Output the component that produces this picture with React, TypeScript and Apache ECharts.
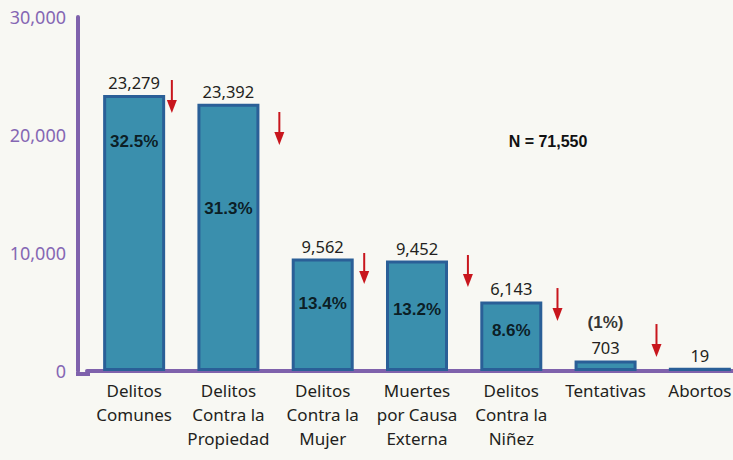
import React, { useEffect, useRef } from "react";
import * as echarts from "echarts";

const categories = [
  "Delitos\nComunes",
  "Delitos\nContra la\nPropiedad",
  "Delitos\nContra la\nMujer",
  "Muertes\npor Causa\nExterna",
  "Delitos\nContra la\nNiñez",
  "Tentativas",
  "Abortos",
];
// bar heights as drawn in the picture
const barHeights = [23400, 22650, 9530, 9360, 5890, 890, 270];
// value labels as printed above the bars
const valueLabels = ["23,279", "23,392", "9,562", "9,452", "6,143", "703", "19"];
// percentage labels: category index, y value for label, text
const pctCategory = [0, 1, 2, 3, 4, 5];
const pctY = [19490, 13810, 5760, 5250, 3390, 4070];
const pctText = ["32.5%", "31.3%", "13.4%", "13.2%", "8.6%", "(1%)"];
// arrows: category index, shift in band widths, top value, bottom value
const arrowCategory = [0, 1, 2, 3, 4, 5];
const arrowShift = [0.4, 0.54, 0.44, 0.54, 0.49, 0.54];
const arrowTop = [24660, 21950, 10000, 9830, 7030, 3980];
const arrowBottom = [21860, 19150, 7370, 7120, 4240, 1190];
const yTicks = { min: 0, max: 30000, interval: 10000 };
const totalText = "N = 71,550";

export default function App() {
  const ref = useRef<HTMLDivElement>(null);
  useEffect(() => {
    if (!ref.current) return;
    const chart = echarts.init(ref.current, null, { renderer: "svg" });
    const purple = "#7F62AC";
    const option: any = {
      animation: false,
      backgroundColor: "#F8F8F3",
      grid: { left: 87, width: 660, top: 17, bottom: 89, outerBoundsMode: "none", containLabel: false },
      xAxis: {
        type: "category",
        data: categories,
        axisLine: { lineStyle: { color: purple, width: 4 } },
        axisTick: { show: false },
        axisLabel: {
          interval: 0,
          color: "#231F20",
          fontFamily: "Noto Sans",
          fontSize: 17,
          lineHeight: 24,
          margin: 7,
        },
      },
      yAxis: {
        type: "value",
        min: yTicks.min,
        max: yTicks.max,
        interval: yTicks.interval,
        offset: 9,
        axisLine: { show: true, lineStyle: { color: purple, width: 4 } },
        axisTick: { show: false },
        splitLine: { show: false },
        axisLabel: {
          color: "#8567B3",
          fontFamily: "Noto Sans",
          fontSize: 18,
          margin: 12,
          formatter: (v: number) => v.toLocaleString("en-US"),
        },
      },
      graphic: [
        {
          type: "rect",
          shape: { x: 76, y: 372, width: 14, height: 4 },
          style: { fill: purple },
          z: 10,
        },
        {
          type: "text",
          x: 548,
          y: 141,
          style: {
            text: totalText,
            fill: "#111",
            font: "bold 16px 'Liberation Sans', Arial, sans-serif",
            textAlign: "center",
            textVerticalAlign: "middle",
          },
        },
      ],
      series: [
        {
          type: "bar",
          data: barHeights,
          barWidth: 62,
          itemStyle: { color: "#3A8FAD", borderColor: "#2A5F97", borderWidth: 3 },
          label: {
            show: true,
            position: "top",
            distance: 4,
            color: "#231F20",
            fontFamily: "Noto Sans",
            fontSize: 16.5,
            formatter: (p: any) => valueLabels[p.dataIndex],
          },
          z: 2,
        },
        {
          type: "scatter",
          data: pctCategory.map((c, i) => [c, pctY[i]]),
          symbolSize: 1,
          itemStyle: { color: "rgba(0,0,0,0)" },
          label: {
            show: true,
            position: "inside",
            color: "#000",
            fontFamily: "'Liberation Sans', Arial, sans-serif",
            fontWeight: "bold",
            fontSize: 17,
            formatter: (p: any) => pctText[p.dataIndex],
          },
          z: 5,
        },
        {
          type: "custom",
          data: arrowCategory.map((c, i) => [c, arrowShift[i], arrowTop[i], arrowBottom[i]]),
          encode: { x: 0, y: [2, 3] },
          renderItem: (params: any, api: any) => {
            const idx = api.value(0);
            const shift = api.value(1);
            const p1 = api.coord([idx, api.value(2)]);
            const p2 = api.coord([idx, api.value(3)]);
            const bw = api.size([1, 0])[0];
            const x = p1[0] + shift * bw;
            const color = "#C8161D";
            return {
              type: "group",
              children: [
                {
                  type: "line",
                  shape: { x1: x, y1: p1[1], x2: x, y2: p2[1] - 10 },
                  style: { stroke: color, lineWidth: 2 },
                },
                {
                  type: "polygon",
                  shape: { points: [[x - 5, p2[1] - 13], [x + 5, p2[1] - 13], [x, p2[1]]] },
                  style: { fill: color },
                },
              ],
            };
          },
          z: 6,
        },
      ],
    };
    chart.setOption(option);
    return () => chart.dispose();
  }, []);
  return (
    <div
      ref={ref}
      style={{ position: "fixed", left: 0, top: 0, width: 733, height: 460 }}
    />
  );
}
